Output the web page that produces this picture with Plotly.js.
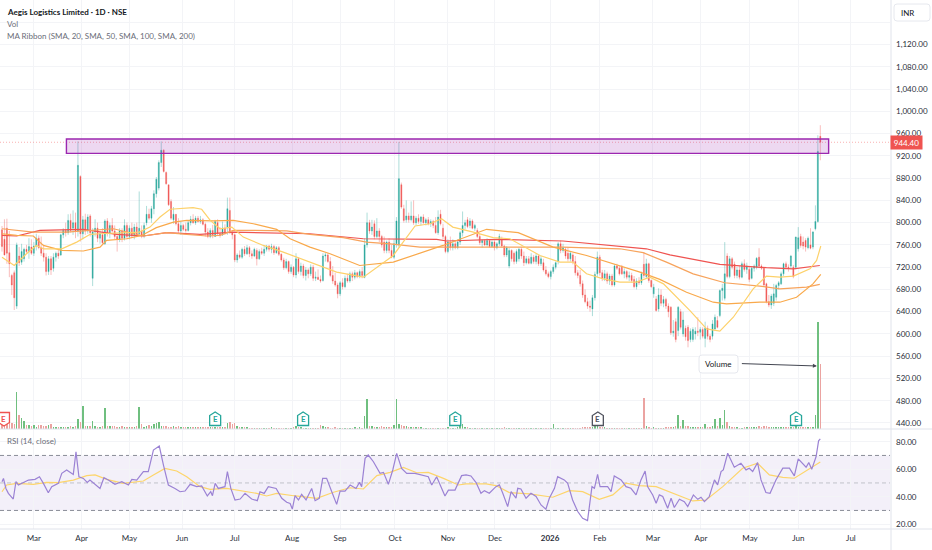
<!DOCTYPE html>
<html><head><meta charset="utf-8">
<script src="https://cdn.plot.ly/plotly-3.0.1.min.js"></script>
<style>html,body{margin:0;padding:0;background:#fff;overflow:hidden}#c{width:932px;height:550px}</style>
</head><body><div id="c"></div><script>
const open_=[787,770,790,746,705,710,650,740,729,735,
752,748,756,745,758,772,755,745,738,712,
735,718,738,745,742,778,786,782,804,790,
800,785,883,780,805,785,812,700,783,790,
772,778,762,803,780,795,785,775,770,785,
772,795,775,790,776,792,780,785,776,800,
815,808,825,852,862,908,930,890,868,838,
805,815,798,785,795,788,786,800,806,800,
808,802,805,797,783,775,786,775,800,780,
778,790,792,822,782,778,733,742,738,752,
744,755,744,740,750,735,748,745,752,758,
752,757,746,755,743,733,719,730,712,720,
706,735,712,722,705,715,708,720,700,702,
698,696,740,742,730,705,695,688,672,692,
685,700,695,708,702,710,703,712,702,760,
800,785,798,775,785,775,765,750,765,750,
738,762,760,868,825,805,812,805,812,800,
808,802,810,800,805,798,802,795,782,815,
790,775,748,765,755,762,755,765,782,795,
805,795,803,790,786,775,764,768,760,768,
757,765,755,762,770,758,742,722,750,745,
730,735,752,740,728,735,727,738,730,740,
726,728,715,708,703,712,720,730,762,750,
752,745,735,742,730,710,705,690,670,658,
650,645,665,708,738,710,700,708,695,704,
688,722,718,720,708,712,702,705,698,685,
695,692,725,703,726,696,672,663,645,670,
655,662,650,648,602,622,606,640,600,610,
612,590,590,600,605,603,608,592,610,596,
596,609,624,633,678,664,740,703,735,725,
705,715,702,726,716,716,700,718,720,738,
722,718,690,658,652,655,666,687,690,708,
726,720,722,720,720,753,775,765,768,755,
760,756,789,802,955];
const high=[794,806,807,785,708,714,764,756,762,755,
760,772,770,765,780,777,775,760,745,740,
740,745,748,752,780,790,800,815,816,822,
818,946,885,812,816,815,815,790,806,800,
785,790,806,808,800,808,795,782,790,790,
806,800,795,800,798,800,856,795,800,830,
825,830,858,882,912,946,932,892,868,842,
828,815,808,802,798,800,804,812,815,812,
812,812,808,800,790,790,796,805,806,792,
802,797,845,845,786,780,745,750,755,758,
760,758,750,755,754,752,755,758,760,760,
762,760,758,758,745,737,735,732,725,722,
745,738,728,726,720,718,725,724,712,716,
705,745,746,745,738,722,710,692,695,700,
705,708,712,712,715,712,716,720,772,818,
805,805,804,808,790,778,775,768,772,760,
770,810,945,872,832,840,818,838,840,812,
815,812,815,808,810,806,805,810,822,823,
798,778,770,775,770,768,770,785,820,805,
810,808,806,798,790,780,770,770,772,770,
768,768,765,780,775,760,758,755,752,748,
752,755,756,748,740,740,745,742,745,742,
740,735,722,712,715,725,730,765,768,762,
756,755,748,745,740,715,715,696,680,665,
660,670,712,748,742,715,715,712,708,708,
725,726,722,724,718,715,712,710,704,700,
702,712,747,735,728,698,690,668,682,680,
668,665,655,650,625,628,650,645,640,615,
616,610,612,612,630,612,612,622,615,600,
625,635,632,680,690,765,745,740,738,730,
720,722,730,734,728,722,722,725,738,754,
725,720,692,670,672,690,690,695,712,728,
730,725,742,724,775,792,780,775,772,775,
790,785,831,957,975];
const low=[748,741,726,702,670,643,645,722,724,730,
745,735,742,740,750,752,740,730,705,706,
706,712,730,735,740,772,775,778,782,778,
772,775,766,770,778,780,775,686,775,765,
762,760,760,775,772,782,770,748,765,765,
768,770,770,772,770,775,776,772,772,795,
805,800,815,845,858,900,890,868,830,805,
798,795,780,778,785,782,784,795,798,796,
800,798,795,775,772,772,772,775,776,773,
776,778,778,780,770,729,728,735,735,740,
742,738,735,738,723,733,742,740,748,748,
745,742,744,740,730,715,716,708,708,702,
700,708,705,700,696,700,704,695,695,697,
692,694,730,728,702,690,685,664,668,680,
682,692,692,695,698,700,700,700,700,755,
780,778,770,772,765,755,745,745,745,736,
735,755,755,825,800,800,800,802,796,795,
798,795,798,795,795,792,790,780,778,795,
770,745,745,750,750,752,752,760,775,788,
790,790,788,785,772,760,755,758,757,755,
755,750,752,758,755,738,738,718,730,725,
726,730,735,722,725,725,725,726,725,722,
722,712,705,700,698,708,716,725,745,746,
735,730,730,725,705,700,685,665,655,645,
640,632,660,702,705,695,695,690,688,685,
685,715,705,706,700,698,695,692,682,680,
688,688,700,700,692,682,665,640,640,650,
648,645,630,598,595,585,596,608,595,588,
576,585,586,590,596,590,592,576,590,585,
590,605,610,630,660,660,700,700,716,700,
700,698,700,712,708,693,698,712,716,718,
715,685,655,648,645,650,660,680,688,704,
716,712,718,700,716,748,755,752,748,752,
752,752,786,800,912];
const close_=[757,742,745,726,688,665,760,728,748,752,
748,757,745,758,772,755,745,738,712,735,
715,738,745,740,778,786,782,804,786,800,
785,903,780,805,785,810,782,783,790,772,
780,764,803,780,795,785,775,770,785,772,
795,775,790,776,792,778,790,776,795,815,
808,825,852,878,908,930,892,870,832,808,
815,798,785,795,788,786,800,806,800,808,
802,805,797,783,775,786,778,802,780,778,
790,782,825,782,778,733,742,738,752,744,
755,744,740,752,735,748,745,752,758,752,
757,746,755,743,733,719,730,712,720,706,
735,712,722,705,715,708,720,700,702,698,
695,740,742,730,705,695,688,672,692,685,
700,695,708,702,710,703,712,705,760,800,
785,792,775,785,775,760,750,765,750,738,
762,803,879,828,804,812,805,812,800,808,
802,810,800,805,798,802,795,782,810,798,
775,748,765,755,762,755,765,782,795,800,
793,803,790,795,775,764,768,760,768,757,
765,755,762,775,758,742,755,750,735,730,
748,752,740,728,735,727,738,730,740,726,
735,715,708,703,712,720,728,762,750,755,
740,735,745,730,710,705,690,670,658,650,
648,665,707,738,710,700,708,695,704,688,
722,718,708,708,712,702,705,696,685,695,
692,708,705,726,696,685,684,642,670,655,
662,650,640,602,605,590,648,612,625,595,
588,605,608,605,603,608,596,610,596,590,
618,630,612,678,682,708,703,735,720,705,
715,702,726,716,722,698,718,722,736,722,
718,688,658,652,668,672,687,692,708,726,
720,718,740,703,774,773,759,758,756,772,
754,783,802,928,944.4];
const volume=[4,4,5,15,6,5,37,14,11,8,
4,4,3,4,2,4,4,3,3,4,
5,2,2,2,2,2,2,2,3,2,
3,10,7,23,3,3,3,8,3,2,
2,3,21,3,3,3,3,2,2,3,
2,2,2,2,2,3,22,5,2,3,
4,3,5,6,7,3,3,3,2,2,
3,2,3,2,2,2,2,2,2,2,
2,2,2,2,2,2,2,2,2,2,
2,2,6,7,5,6,3,2,2,2,
2,1,1,1,1,1,1,1,1,1,
2,1,1,1,1,1,1,1,1,2,
3,2,2,1,1,1,1,1,1,1,
4,3,2,2,1,1,2,1,1,1,
1,1,1,1,2,1,2,1,13,30,
3,3,2,2,2,3,2,2,2,2,
4,30,5,4,3,3,2,2,2,2,
2,2,1,1,1,1,1,1,1,1,
1,1,2,1,1,1,2,7,5,2,
2,1,1,1,1,1,1,1,1,1,
1,1,1,1,1,2,1,1,1,1,
1,1,1,1,1,1,1,1,1,1,
1,1,1,1,1,5,1,1,1,1,
1,1,1,1,1,1,1,2,2,2,
2,2,3,3,2,2,2,1,1,1,
1,1,1,1,1,1,1,1,1,1,
1,1,31,3,2,1,2,1,1,1,
1,2,2,2,2,3,14,3,9,3,
3,2,2,2,2,2,2,5,2,2,
3,10,3,11,4,19,7,3,2,2,
2,1,1,2,2,2,2,2,2,3,
2,3,3,2,2,2,2,2,2,2,
2,2,2,2,3,2,2,2,2,2,
2,2,14,107,65];

const sma20Bar=[0,5,10,14,17,24.4,30.5,36,40,56,60.4,64.5,68.6,78,81.5,85,89,93.8,98.5,106.7,114.8,125.7,136.6,147.5,153,159.7,168.6,174.7,179.4,184,192.4,200.5,207.3,219.6,227.7,233,238.6,245.4,252.2,259,264.4,270,280.8,287.6,293,298.5,306.6,312,317.5,323,329.8,332.5,334.2];
const sma20=[738,723,744,759,753,753,765,779,780,783,792,810,824,827,824,804,789,792,774,759,747,729,711,702,720,741,794,798,807,792,783,773,771,741,729,729,708,699,693,693,702,690,642,609,605,630,681,704,702,704,717,732,758];
const sma50Bar=[0,6,12.8,16.9,24.4,33.2,40,42.7,50.9,57,63,70,75.4,86.3,94.4,102.6,112.1,117.6,125.7,133.9,146,159.7,180,197.8,210.7,225,238.6,252.2,260.4,268.5,279.4,290.3,295.7,309.3,317.5,324.3,331,334.2];
const sma50=[780,777,776,759,750,749,756,768,771,777,791,801,804,803,804,798,788,771,756,744,723,729,759,788,782,756,741,722,711,698,675,657,654,657,657,666,690,707];
const sma100Bar=[0,12.8,26.4,45.5,57.7,67.2,75.4,83.6,89,94.4,102.6,116.2,125.7,139.3,148.8,158.4,170.6,180,214.1,229,252.2,261.7,271.2,282.1,295,309.3,317.5,328.4,333.8];
const sma100=[789,783,783,789,776,782,779,776,777,786,786,785,779,773,765,762,756,756,755,756,753,746,729,708,692,686,681,684,689];
const sma200Bar=[0,6,15.5,33.2,46.8,57.7,67.2,80.8,94.4,125.7,147.5,161,177.4,181.5,201.9,229,252.2,263,272.6,293,312,323,333.8];
const sma200=[777,776,786,788,779,776,782,779,783,780,771,771,770,767,770,767,757,753,742,725,719,717,723];

const rsiBar=[0,0.6,1.6,2.6,4.6,5.7,6.7,8,10.8,13.5,15.3,16.9,18.9,20.3,23,24.4,26.4,29.1,30.2,31.4,33.2,34.8,35.9,40,41.6,43.4,46.1,48.9,51.6,53,55,57.7,59.7,61.8,64.2,65.9,67.9,70.6,72.7,74.7,76.8,79.5,81.5,83.8,85.2,85.9,87,88.3,91,92,93.4,95.1,97.2,99.2,101.9,104.2,105.3,107,108.7,111.9,114.2,116.2,117.6,118.5,119.6,121,122.3,124.1,126.4,127.8,129.5,130.9,132.5,134.6,136.6,138,140,142.1,144.5,145.9,146.8,148.2,149.5,151.6,154.3,155.7,157.7,159.5,161.1,163.1,165.2,168.6,174,175.4,177.4,180.8,182.2,184.9,187.6,189.4,191.4,193.5,195.5,196.9,198.9,201.6,203,204.4,206.4,207.8,209.8,210.5,211.8,213.9,215.9,218,220,222,223.4,225.5,226.8,229.5,230.9,232.9,235,237,239,240.8,241.8,243.1,244.1,247.2,248.6,249.9,252.7,254.7,256.7,258.8,260.8,262.5,263.5,265.6,267,268.3,269.7,271.7,273.1,274.4,276.5,278.5,279.9,282.2,284,285.3,286.7,288.7,290.8,292.1,293.5,294.4,296.2,298.9,301.6,303.7,305,306.4,308.4,309.8,311.8,313.5,315.9,318.7,321.4,323.4,325,328.2,329.3,330.5,332.3,333.3,334];
const rsi=[50.9,53.3,46,42.4,38.3,50.9,48.5,49.7,52.1,52.6,54.5,49.7,42.9,47.3,49.7,57,59.4,56.2,72.7,54.5,53.3,50.4,52.1,46,53.8,52.1,49,50.9,48.5,52.6,52.1,58.2,58.2,73.9,76.8,63,48.5,46,43.6,44.1,49,47.3,47.8,40.5,43.6,40.7,49.7,46,47.3,58.2,46,37.6,38.3,42.4,38.3,37.1,43.6,42.4,47.3,46,38.8,35.9,35.1,31,40.7,37.6,41.7,37.6,46,37.1,38.8,53.3,53.3,43.6,34.4,44.1,44.1,48.5,46,50.4,47.3,67.9,70.3,65.4,57,57.7,49,59.4,71.5,60.6,57,57,54.5,48.5,54.5,40.5,44.8,44.8,55.3,55.8,55.1,50.3,42.5,44.4,42.5,47.3,48.6,42.5,32.8,43.7,38.9,46.1,45.6,38.9,42.5,40.1,34,30.9,38.9,46.1,54.6,52.2,49.8,37.6,29.2,24.3,22.6,47.3,46.1,56.3,47.3,47.3,43.7,55.1,52.2,47.3,46.1,41.3,52.2,58.7,47.3,41.3,35.2,41.3,40.1,31.6,38.9,32.1,38.1,36.4,32.8,41.3,38.1,39.6,36.4,40.1,52.2,48.6,58.3,59.5,71.6,61.4,64.3,59.5,60.7,58.3,64.8,52.2,43,42.5,52.2,60.7,60.7,55.1,67.5,61.4,64.8,59.9,69.2,80.6,82];
const rsiMaBar=[0,1.9,6,12.8,18.2,23,29.1,34.6,38,42.7,49.5,57.7,61.8,66.5,71.3,75.4,80.8,84.9,91.7,97.2,104,108,112.1,119,128.5,135.3,142,147.5,153,158.4,163.8,169.3,174,180.2,186.3,189.4,197.6,201.6,207.1,215.3,224.8,231.6,237,243.8,249.3,254.7,260.1,267,273.8,281.9,287.4,294.2,302.3,308.4,313.2,318.7,323.4,328.2,334];
const rsiMa=[43.6,48.5,49.7,49,50.4,50.2,52.1,55.3,55.8,52.6,49.7,51.4,55.8,60.6,58.7,54.5,47.3,45.3,46,44.4,42.4,40.5,42.4,40.7,38.8,43.2,46.5,45.6,55.3,57.7,61.3,57.4,57.7,53.3,48.5,49.3,49.3,48.1,43,42,39.6,44.4,43.7,38.1,41.3,49.8,48.1,47.3,42.5,36.9,37.6,47.3,60.7,64.3,55.8,54.1,53.4,59,65.3];

const monthBar=[13,32.5,52,73.5,95,118.4,138,160.4,182,201.2,223.7,244,265.7,285.3,305.3,325,346.5];
const monthLabel=['Mar','Apr','May','Jun','Jul','Aug','Sep','Oct','Nov','Dec','<b>2026</b>','Feb','Mar','Apr','May','Jun','Jul'];
const priceTicks=[440,480,520,560,600,640,680,720,760,800,840,880,920,960,1000,1040,1080,1120,1160];
const rsiTicks=[20,40,60,80];
const earnBar=[0.8,87,122.9,185,243.2,324.1];
const earnColor=['#ef5350','#26a69a','#26a69a','#26a69a','#50535e','#26a69a'];
const lastPrice=944.40;
const zoneBars=[26.3,337.4], zonePrices=[924.5,950.2];

const W=890,H=529;
const xs=close_.map((_,i)=>i);
const C={up:'#26a69a',dn:'#ef5350',upW:'rgba(38,166,154,.42)',dnW:'rgba(239,83,80,.42)'};
const mn=(a,b)=>a.map((v,i)=>Math.min(v,b[i])), mx=(a,b)=>a.map((v,i)=>Math.max(v,b[i]));
const candleBase={type:'candlestick',x:xs,whiskerwidth:0,hoverinfo:'skip',showlegend:false,xaxis:'x',yaxis:'y'};
const line=(x,y,color,yaxis,w)=>({type:'scatter',mode:'lines',x,y,xaxis:'x',yaxis,line:{color,width:w||1.2},hoverinfo:'skip',showlegend:false});

const traces=[
 {type:'bar',x:xs,y:volume,xaxis:'x',yaxis:'y3',width:0.6,hoverinfo:'skip',showlegend:false,
  marker:{color:close_.map((c,i)=>c>=open_[i]?'#6fbf7f':'#eba3a1'),line:{width:0}}},
 Object.assign({},candleBase,{open:open_,high,low,close:close_,
  increasing:{line:{color:C.upW,width:0.9},fillcolor:'rgba(0,0,0,0)'},decreasing:{line:{color:C.dnW,width:0.9},fillcolor:'rgba(0,0,0,0)'}}),
 Object.assign({},candleBase,{open:open_,high:mx(open_,close_),low:mn(open_,close_),close:close_,
  increasing:{line:{color:C.up,width:0},fillcolor:C.up},decreasing:{line:{color:C.dn,width:0},fillcolor:C.dn}}),
 line(sma200Bar,sma200,'#ef5350','y'),
 line(sma100Bar,sma100,'#f7a35c','y'),
 line(sma50Bar,sma50,'#f9a94b','y'),
 line(sma20Bar,sma20,'#fdd16a','y'),
 line(rsiMaBar,rsiMa,'#fdd56b','y2'),
 line(rsiBar,rsi,'#9b82d4','y2',1.2)
];

const py=v=>1-v/H, px=v=>v/W;
const grey='#6a6d78',ink='#131722',fontF='Lato, "Open Sans", sans-serif';
const note=(x,y,text,o)=>Object.assign({xref:'paper',yref:'paper',x:px(x),y:py(y),text,showarrow:false,xanchor:'left',yanchor:'middle',font:{family:fontF,size:8,color:grey}},o||{});
const rr=(w,h,r)=>{const a=w/2,b=h/2;return `M ${-a+r} ${-b} L ${a-r} ${-b} Q ${a} ${-b} ${a} ${-b+r} L ${a} ${b-r} Q ${a} ${b} ${a-r} ${b} L ${-a+r} ${b} Q ${-a} ${b} ${-a} ${b-r} L ${-a} ${-b+r} Q ${-a} ${-b} ${-a+r} ${-b} Z`;};
const house=(up)=>{const s=up?1:-1;return `M -5.5 ${-6.5*s} L 5.5 ${-6.5*s} L 5.5 ${3.5*s} L 0 ${7*s} L -5.5 ${3.5*s} Z`;};

const shapes=[
 {type:'rect',xref:'paper',yref:'y2',x0:0,x1:1,y0:30,y1:70,fillcolor:'rgba(126,87,194,.09)',line:{width:0},layer:'below'},
 {type:'line',xref:'paper',yref:'y2',x0:0,x1:1,y0:70,y1:70,line:{color:'#8a8d97',width:1,dash:'4px,3px'},layer:'below'},
 {type:'line',xref:'paper',yref:'y2',x0:0,x1:1,y0:50,y1:50,line:{color:'#c0c2ca',width:1,dash:'4px,3px'},layer:'below'},
 {type:'line',xref:'paper',yref:'y2',x0:0,x1:1,y0:30,y1:30,line:{color:'#8a8d97',width:1,dash:'4px,3px'},layer:'below'},
 {type:'line',xref:'paper',yref:'y',x0:0,x1:1,y0:lastPrice,y1:lastPrice,line:{color:'rgba(239,83,80,.45)',width:1,dash:'1px,2px'}},
 {type:'rect',xref:'x',yref:'y',x0:zoneBars[0],x1:zoneBars[1],y0:zonePrices[0],y1:zonePrices[1],fillcolor:'rgba(156,39,176,.18)',line:{color:'#9c27b0',width:1.4}},
 {type:'line',xref:'paper',yref:'paper',x0:0,x1:932/W,y0:py(429),y1:py(429),line:{color:'#e0e3eb',width:1}},
 {type:'line',xref:'paper',yref:'paper',x0:0,x1:932/W,y0:py(529),y1:py(529),line:{color:'#e0e3eb',width:1}},
 {type:'line',xref:'paper',yref:'paper',x0:px(891),x1:px(891),y0:py(550),y1:1,line:{color:'#e0e3eb',width:1}},
 {type:'path',xref:'paper',yref:'paper',xsizemode:'pixel',ysizemode:'pixel',xanchor:px(912),yanchor:py(12.5),path:rr(36,17,3),fillcolor:'#fff',line:{color:'#e6e8ee',width:1}},
 {type:'path',xref:'paper',yref:'paper',xsizemode:'pixel',ysizemode:'pixel',xanchor:px(718.5),yanchor:py(364),path:rr(39,18,3),fillcolor:'#fff',line:{color:'#e6e8ee',width:1}}
];
earnBar.forEach((b,i)=>shapes.push({type:'path',xref:'x',yref:'y3',xsizemode:'pixel',ysizemode:'pixel',xanchor:b,yanchor:10,path:house(i>0),fillcolor:'#fff',line:{color:earnColor[i],width:1.3}}));

const annotations=[
 note(5,12,'<b>Aegis Logistics Limited · 1D · NSE</b>',{font:{family:fontF,size:8,color:ink}}),
 note(5,24,'Vol'),
 note(5,36,'MA Ribbon (SMA, 20, SMA, 50, SMA, 100, SMA, 200)'),
 note(5,441,'RSI (14, close)'),
 note(899,12.5,'INR',{font:{family:fontF,size:8,color:ink}}),
 {xref:'paper',yref:'y',x:px(906.5),xanchor:'center',y:lastPrice,text:'944.40',showarrow:false,bgcolor:'#ef5350',width:31,height:13,borderpad:0,font:{family:fontF,size:8,color:'#fff'}},
 {xref:'x',yref:'y3',x:332.6,y:63,ax:-78,ay:-2.5,text:' ',showarrow:true,arrowhead:2,arrowsize:0.8,arrowwidth:1,arrowcolor:'#434651',standoff:0},
 note(718.5,364,'Volume',{xanchor:'center',font:{family:fontF,size:8,color:ink}})
];
earnBar.forEach((b,i)=>annotations.push({xref:'x',yref:'y3',x:b,y:10,text:'<b>E</b>',showarrow:false,font:{family:fontF,size:8,color:earnColor[i]}}));

const tickFont={family:fontF,size:8,color:'#2a2e39'};
const fmt=v=>v.toLocaleString('en-US',{minimumFractionDigits:2,maximumFractionDigits:2});
const layout={
 width:932,height:550,margin:{l:0,r:42,t:0,b:21,pad:0},paper_bgcolor:'#fff',plot_bgcolor:'#fff',
 hovermode:false,dragmode:false,showlegend:false,boxmode:'overlay',boxgap:0.4,bargap:0,
 xaxis:{domain:[0,1],anchor:'y2',range:[-0.816,362.45],rangeslider:{visible:false},tickmode:'array',tickvals:monthBar,ticktext:monthLabel,
  showgrid:true,gridcolor:'#f3f4f7',gridwidth:1,zeroline:false,showline:false,ticks:'',tickfont:tickFont,ticklabelstandoff:3,tickangle:0},
 yaxis:{domain:[py(429),1],anchor:'x',side:'right',range:[429.2,1200],tickmode:'array',tickvals:priceTicks,ticktext:priceTicks.map(v=>v===1160?'':fmt(v)),
  showgrid:true,gridcolor:'#f3f4f7',zeroline:false,ticks:'',tickfont:tickFont,ticklabelstandoff:5,fixedrange:true},
 yaxis2:{domain:[0,py(430)],anchor:'x',side:'right',range:[16.5,88.5],tickmode:'array',tickvals:rsiTicks,ticktext:rsiTicks.map(fmt),
  showgrid:true,gridcolor:'#f3f4f7',zeroline:false,ticks:'',tickfont:tickFont,ticklabelstandoff:5,fixedrange:true},
 yaxis3:{domain:[py(429),1],anchor:'x',overlaying:'y',side:'left',range:[0,429],visible:false,fixedrange:true},
 shapes,annotations
};
Plotly.newPlot('c',traces,layout,{displayModeBar:false,staticPlot:true});
</script></body></html>
